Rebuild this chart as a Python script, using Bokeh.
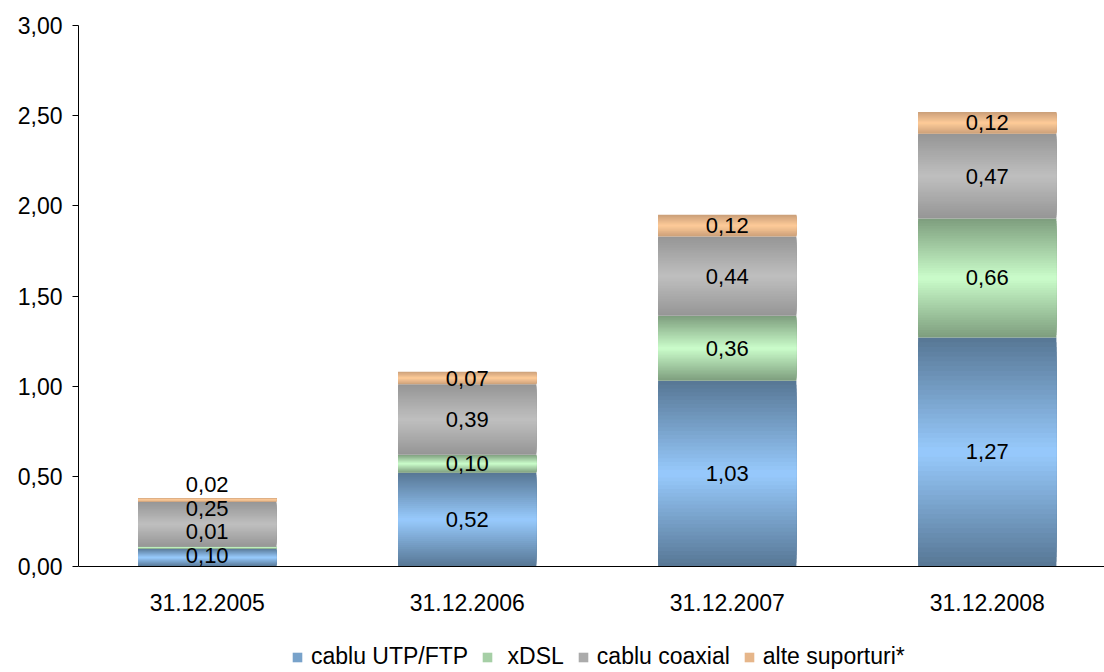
import numpy as np
from bokeh.plotting import figure
from bokeh.models import (ColumnDataSource, Range1d, FixedTicker, Legend,
                          LegendItem, LabelSet, Span)
from bokeh.core.properties import value
from bokeh.embed import file_html
from bokeh.resources import INLINE

# ---------------- data ----------------
categories = ["31.12.2005", "31.12.2006", "31.12.2007", "31.12.2008"]
series_names = ["cablu UTP/FTP", " xDSL", "cablu coaxial", "alte suporturi*"]
utp = [0.10, 0.52, 1.03, 1.27]
xdsl = [0.01, 0.10, 0.36, 0.66]
coax = [0.25, 0.39, 0.44, 0.47]
alte = [0.02, 0.07, 0.12, 0.12]
y_ticks = [0.0, 0.5, 1.0, 1.5, 2.0, 2.5, 3.0]
y_tick_labels = ["0,00", "0,50", "1,00", "1,50", "2,00", "2,50", "3,00"]

# ---------------- style ----------------
FONT = "Liberation Sans"
FS_VAL = "22px"
FS_CAT = "23px"
FS_LEG = "23px"
FS_Y = "23px"
edge_colors = [(88, 120, 150), (127, 159, 127), (150, 150, 150), (204, 160, 122)]
center_colors = [(153, 204, 255), (204, 255, 204), (192, 192, 192), (255, 204, 153)]
N_STEPS = 24
BAR_W = 0.532
# label lift in screen px (first category labels are spread apart in the original)
label_lift_px = [[2, 0, 0, 0], [16, 0, 0, 0], [16, 0, 0, 0], [15, 0, 0, 0]]
Y_BOTTOM_PAD = -0.5878   # room below zero for category labels and legend

series = [utp, xdsl, coax, alte]
xpos = [i + 0.5 for i in range(len(categories))]

p = figure(width=1104, height=672, output_backend="svg", toolbar_location=None,
           x_range=Range1d(0.005, 3.951), y_range=Range1d(Y_BOTTOM_PAD, 3))
p.min_border_left = 78
p.min_border_right = 0
p.min_border_top = 25
p.min_border_bottom = 0
p.outline_line_color = None
p.xgrid.grid_line_color = None
p.ygrid.grid_line_color = None
p.background_fill_color = "white"
p.border_fill_color = "white"
p.xaxis.visible = False


def hexcol(c):
    return "#%02x%02x%02x" % tuple(int(round(v)) for v in c)


legend_items = []
base = np.zeros(len(categories))
for s_idx, vals in enumerate(series):
    vals = np.array(vals, dtype=float)
    bottoms = base.copy()
    tops = base + vals
    centers = (bottoms + tops) / 2.0
    half = vals / 2.0
    mid_renderer = None
    for k in range(N_STEPS):
        f = 1.0 - k / N_STEPS  # fraction of segment height
        e = np.array(edge_colors[s_idx]); c = np.array(center_colors[s_idx])
        col = hexcol(c + (e - c) * f)
        src = ColumnDataSource(dict(x=xpos, top=centers + half * f,
                                    bottom=centers - half * f))
        r = p.vbar(x="x", top="top", bottom="bottom", width=BAR_W, source=src,
                   fill_color=col, line_color=None)
        if k == N_STEPS // 2:
            mid_renderer = r
    legend_items.append(LegendItem(label=series_names[s_idx], renderers=[mid_renderer]))

    lab_src = ColumnDataSource(dict(
        x=xpos, y=centers,
        t=[("%.2f" % v).replace(".", ",") for v in vals],
        dy=label_lift_px[s_idx]))
    p.add_layout(LabelSet(x="x", y="y", text="t", y_offset="dy", source=lab_src,
                          text_align="center", text_baseline="middle",
                          text_font=value(FONT), text_font_size=value(FS_VAL),
                          text_color="black"))
    base = tops

# category axis line and labels at value zero
p.add_layout(Span(location=0, dimension="width", line_color="black", line_width=1))
cat_src = ColumnDataSource(dict(x=xpos, y=[0] * len(categories), t=categories))
p.add_layout(LabelSet(x="x", y="y", text="t", y_offset=-36, source=cat_src,
                      text_align="center", text_baseline="middle",
                      text_font=value(FONT), text_font_size=value(FS_CAT),
                      text_color="black"))

# y axis
ya = p.yaxis[0]
ya.bounds = (0, 3)
ya.ticker = FixedTicker(ticks=y_ticks)
ya.major_label_overrides = {t: l for t, l in zip(y_ticks, y_tick_labels)}
ya.minor_tick_line_color = None
ya.major_tick_in = 0
ya.major_tick_out = 6
ya.major_label_standoff = 10
ya.axis_line_color = "black"
ya.major_tick_line_color = "black"
ya.major_label_text_font = FONT
ya.major_label_text_font_size = FS_Y
ya.major_label_text_color = "black"

legend = Legend(items=legend_items, orientation="horizontal", location=(213, 2),
                label_text_font=FONT, label_text_font_size=FS_LEG,
                label_text_color="black",
                glyph_width=12, glyph_height=12, label_standoff=8, spacing=13,
                padding=0, margin=0, border_line_color=None,
                background_fill_alpha=0)
p.add_layout(legend, "center")

open("out.html", "w").write(file_html(p, INLINE))
